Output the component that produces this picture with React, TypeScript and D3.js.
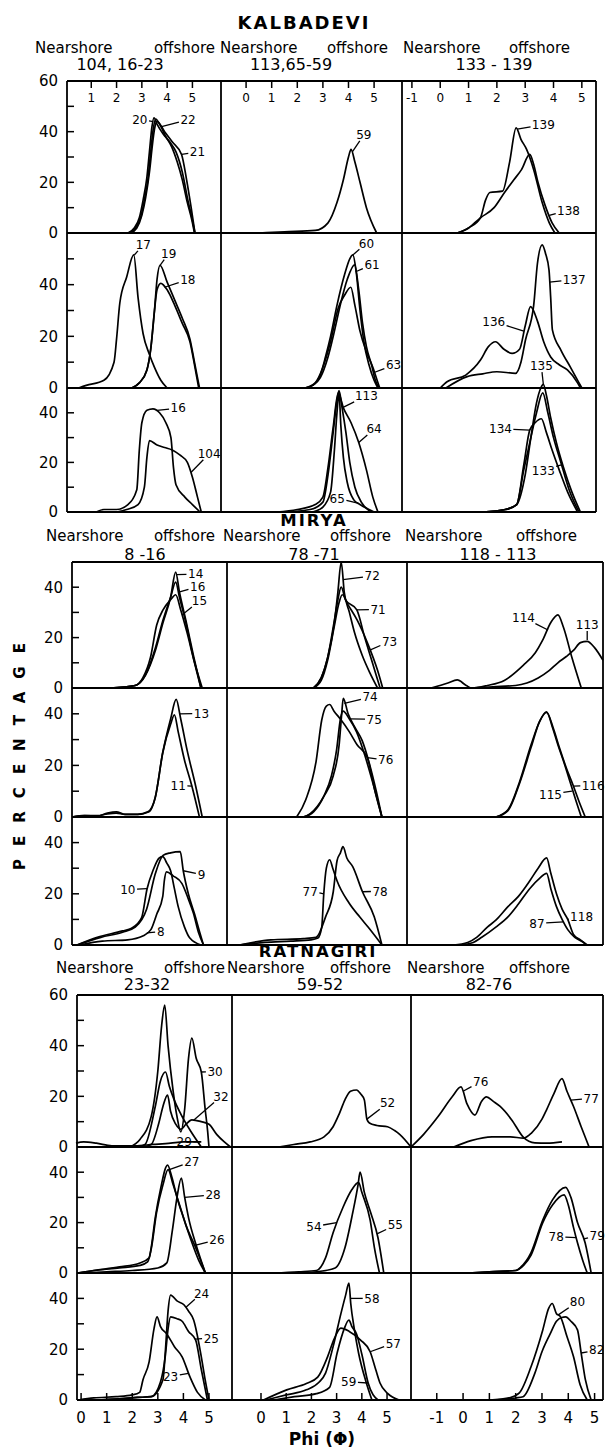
import React from "react";
import * as d3 from "d3";

type Pt = [number, number];
type Note = { t: string; at: Pt; to: Pt };

// ---------------- KALBADEVI ----------------
const kalTitle = "KALBADEVI";
const kalStations = ["104, 16-23", "113,65-59", "133 - 139"];
const kalPhi: Pt[] = [[0.04, 6.13], [-0.98, 6.09], [-1.35, 5.5]];
const kalPctMax = [60, 60, 50];
const kalTopTicks = [[1, 2, 3, 4, 5], [0, 1, 2, 3, 4, 5], [-1, 0, 1, 2, 3, 4, 5]];

const k20: Pt[] = [[2.45,0],[2.7,2],[2.9,6],[3.05,13],[3.2,22],[3.3,32],[3.4,42],[3.48,45.5],[3.6,43],[3.85,39],[4.1,36],[4.35,32],[4.6,24],[4.82,13],[5.0,5],[5.1,0]];
const k22: Pt[] = [[2.5,0],[2.75,2],[2.95,6],[3.1,13],[3.25,22],[3.35,32],[3.45,41],[3.55,45],[3.7,43],[3.95,38],[4.18,34],[4.4,28],[4.6,21],[4.8,12],[4.98,5],[5.08,0]];
const k21: Pt[] = [[2.55,0],[2.8,2],[3.0,7],[3.15,14],[3.3,24],[3.42,35],[3.5,41],[3.6,44],[3.9,40],[4.2,36],[4.57,31],[4.77,21],[4.95,10],[5.1,0]];
const k59: Pt[] = [[0.5,0],[1.5,0.5],[2.7,1],[3.2,4],[3.55,12],[3.8,21],[4.0,30],[4.1,33],[4.25,28],[4.45,20],[4.7,10],[5.1,0]];
const k139: Pt[] = [[0.6,0],[1.0,2],[1.42,6],[1.6,13],[1.75,16],[2.2,16.5],[2.45,28],[2.68,41.5],[2.85,37],[3.05,33],[3.3,25],[3.6,12],[3.85,4],[4.05,0]];
const k138: Pt[] = [[0.6,0],[1.0,2],[1.42,6],[1.9,10],[2.27,16],[2.6,21],[2.87,25],[3.16,31],[3.3,27],[3.45,20],[3.7,11],[3.95,4],[4.2,0]];
const k17: Pt[] = [[0.5,0],[0.8,1],[1.5,3],[1.9,10],[2.0,19],[2.13,33],[2.4,43],[2.68,51.5],[2.85,35],[3.05,21],[3.3,13],[3.5,8],[3.75,3],[4.0,0]];
const k19: Pt[] = [[2.6,0],[2.9,2],[3.2,7],[3.35,15],[3.5,30],[3.6,42],[3.72,47.5],[4.0,41],[4.3,34],[4.6,27],[4.9,19],[5.1,9],[5.28,0]];
const k18: Pt[] = [[2.6,0],[2.9,2],[3.2,7],[3.35,15],[3.5,30],[3.6,38],[3.75,40.5],[4.0,38],[4.3,32],[4.6,25],[4.9,18],[5.1,8],[5.25,0]];
const k60: Pt[] = [[2.3,0],[2.6,1],[2.9,5],[3.1,12],[3.3,20],[3.55,32],[3.85,44],[4.05,50],[4.17,51.5],[4.3,45],[4.45,30],[4.6,18],[4.8,9],[5.0,3],[5.15,0]];
const k61: Pt[] = [[2.3,0],[2.6,1],[2.9,4],[3.2,12],[3.45,22],[3.7,33],[3.95,42],[4.24,47.7],[4.4,38],[4.55,25],[4.7,16],[4.9,9],[5.05,3],[5.2,0]];
const k63: Pt[] = [[2.3,0],[2.7,2],[3.0,8],[3.3,18],[3.6,31],[3.85,36],[4.09,39],[4.25,32],[4.45,22],[4.7,14],[4.95,8],[5.15,2],[5.22,0]];
const k137: Pt[] = [[0.2,0],[0.95,4.4],[1.5,5.5],[2.0,6.3],[2.66,5.7],[2.85,10],[3.01,18.6],[3.3,32],[3.43,48],[3.6,55.4],[3.72,52],[3.84,45.7],[3.9,35],[3.96,22.5],[4.26,14.7],[4.6,8],[4.9,2],[5.0,0]];
const k136: Pt[] = [[0.0,0],[0.24,2.4],[0.9,5],[1.42,10.8],[1.7,16],[1.95,17.9],[2.25,15],[2.54,13.4],[2.8,15],[3.0,24],[3.19,31.5],[3.43,26],[3.65,18],[3.9,12],[4.2,9],[4.49,7],[4.85,2],[4.95,0]];
const k16: Pt[] = [[1.2,0],[1.5,1],[2.0,1],[2.45,3],[2.8,9],[2.9,25],[3.0,36],[3.2,41],[3.44,41.6],[3.7,40],[3.95,36],[4.15,30],[4.25,18],[4.35,11],[4.7,6],[5.0,3],[5.3,0]];
const k104: Pt[] = [[2.0,0],[2.4,1],[2.85,3],[3.1,10],[3.2,22],[3.3,28.8],[3.6,27],[3.9,26],[4.2,25],[4.5,23],[4.8,20],[5.0,14],[5.2,6],[5.35,0]];
const k113: Pt[] = [[1.5,0],[2.5,1],[3.0,4],[3.2,15],[3.4,32],[3.55,45],[3.63,49],[3.75,42],[3.9,32],[4.05,20],[4.25,10],[4.5,4],[4.9,0]];
const k64: Pt[] = [[1.2,0],[2.0,1],[2.7,3],[3.0,6],[3.2,18],[3.4,34],[3.6,48],[3.8,42],[4.1,36],[4.4,28],[4.7,17],[4.95,6],[5.15,0]];
const k65: Pt[] = [[2.6,0],[3.0,2],[3.3,8],[3.45,25],[3.55,40],[3.63,48],[3.7,35],[3.8,22],[3.95,12],[4.2,5],[4.45,3],[4.8,1],[5.0,0]];
const k135: Pt[] = [[1.5,0],[2.3,1],[2.7,3],[3.0,15],[3.2,30],[3.4,44],[3.55,50],[3.64,51.5],[3.75,47],[3.9,38],[4.1,28],[4.35,18],[4.65,8],[4.95,0]];
const k134: Pt[] = [[1.5,0],[2.3,1],[2.7,3],[2.95,19],[3.16,33],[3.35,36],[3.57,37.6],[3.75,32],[3.95,25],[4.2,17],[4.5,8],[4.85,0]];
const k133: Pt[] = [[1.5,0],[2.3,1],[2.7,3],[2.95,17],[3.2,30],[3.4,40],[3.62,48],[3.8,40],[4.0,30],[4.26,20],[4.55,9],[4.9,0]];

const kalCurves: Pt[][][][] = [
  [[k20, k22, k21], [k59], [k139, k138]],
  [[k17, k19, k18], [k60, k61, k63], [k137, k136]],
  [[k16, k104], [k113, k64, k65], [k135, k134, k133]],
];
const kalNotes: Note[][][] = [
  [
    [{ t: "20", at: [2.92, 44.7], to: [3.45, 44] }, { t: "22", at: [4.83, 44.7], to: [3.78, 42] }, { t: "21", at: [5.2, 32], to: [4.57, 31] }],
    [{ t: "59", at: [4.6, 38.7], to: [4.15, 32] }],
    [{ t: "139", at: [3.64, 42.7], to: [2.72, 41] }, { t: "138", at: [4.53, 9], to: [3.85, 7] }],
  ],
  [
    [{ t: "17", at: [3.06, 55.4], to: [2.7, 51.5] }, { t: "19", at: [4.06, 52], to: [3.72, 47.5] }, { t: "18", at: [4.82, 41.9], to: [3.9, 39] }],
    [{ t: "60", at: [4.7, 56], to: [4.17, 51.5] }, { t: "61", at: [4.92, 47.7], to: [4.28, 45] }, { t: "63", at: [5.76, 8.9], to: [5.0, 6] }],
    [{ t: "137", at: [4.73, 41.9], to: [3.86, 41] }, { t: "136", at: [1.89, 25.7], to: [2.95, 22] }],
  ],
  [
    [{ t: "16", at: [4.44, 41.9], to: [3.6, 41] }, { t: "104", at: [5.66, 23.5], to: [4.95, 16] }],
    [{ t: "113", at: [4.7, 46.8], to: [3.75, 42] }, { t: "64", at: [5.0, 33.5], to: [4.4, 28] }, { t: "65", at: [3.56, 5.5], to: [4.4, 3.5] }],
    [{ t: "135", at: [3.57, 58.8], to: [3.64, 51.5] }, { t: "134", at: [2.13, 33.5], to: [3.16, 33] }, { t: "133", at: [3.64, 16.8], to: [4.28, 19] }],
  ],
];

// ---------------- MIRYA ----------------
const mirTitle = "MIRYA";
const mirStations = ["8 -16", "78 -71", "118 - 113"];
const mirPhi: Pt[] = [[0, 6.13], [-0.98, 6.05], [-1.35, 5.6]];
const mirPctMax = [50, 50, 50];

const m14: Pt[] = [[1.5,0],[2.5,1],[2.9,5],[3.3,15],[3.6,26],[3.9,36],[4.1,46],[4.25,38],[4.5,27],[4.8,13],[5.1,0]];
const m16: Pt[] = [[1.5,0],[2.5,1],[2.9,5],[3.3,16],[3.6,27],[3.9,36],[4.1,42],[4.25,36],[4.5,26],[4.8,12],[5.1,0]];
const m15: Pt[] = [[1.5,0],[2.5,1],[2.8,4],[3.1,12],[3.35,25],[3.6,31],[3.9,35],[4.1,37],[4.3,31],[4.55,22],[4.85,10],[5.15,0]];
const m72: Pt[] = [[2.4,0],[2.7,4],[2.95,12],[3.2,25],[3.35,38],[3.48,50],[3.6,38],[3.8,30],[4.0,22],[4.3,13],[4.6,6],[4.9,0]];
const m71: Pt[] = [[2.4,0],[2.7,4],[2.95,12],[3.2,26],[3.35,35],[3.48,40],[3.65,35],[4.09,31],[4.4,20],[4.7,10],[5.0,0]];
const m73: Pt[] = [[2.4,0],[2.7,3],[2.95,11],[3.2,24],[3.4,34],[3.52,37],[3.75,33],[4.1,27],[4.5,18],[4.9,7],[5.1,0]];
const m114: Pt[] = [[-0.5,0],[0.1,2],[0.43,3.2],[0.75,1],[0.95,0],[1.5,1],[2.1,3],[2.77,9],[3.2,14],[3.46,19],[3.75,26],[4.0,29],[4.2,24],[4.5,12],[4.83,0]];
const m113: Pt[] = [[0.95,0],[1.7,0.5],[2.5,1],[2.9,2],[3.3,4],[3.7,7],[4.0,10],[4.3,12.5],[4.56,15],[4.8,18],[5.04,18.5],[5.3,16],[5.6,11]];
const m13: Pt[] = [[0.0,0],[0.5,0.5],[1.0,0.3],[1.4,1.5],[1.75,2],[2.1,1],[2.6,1],[3.0,2],[3.28,7],[3.59,25],[3.9,38],[4.12,45.6],[4.3,38],[4.55,26],[4.89,12],[5.15,0]];
const m11: Pt[] = [[0.0,0],[0.5,0.5],[1.0,0.5],[1.4,1.2],[1.75,1.5],[2.1,1],[2.6,1],[3.05,2],[3.3,8],[3.59,25],[3.9,36],[4.05,39.6],[4.2,33],[4.45,22],[4.74,12],[5.04,0]];
const m74: Pt[] = [[2.0,0],[2.27,1.3],[2.8,8],[3.17,16],[3.4,28],[3.5,40],[3.56,46],[3.75,40],[4.0,35],[4.3,29.6],[4.6,20],[4.85,10],[5.07,0]];
const m75: Pt[] = [[2.0,0],[2.4,2],[2.8,8],[3.1,16],[3.3,26],[3.45,38],[3.55,41],[3.8,38],[4.08,33],[4.4,24],[4.75,12],[5.07,0]];
const m76: Pt[] = [[1.74,0],[2.1,6.8],[2.5,21.6],[2.72,37.6],[2.9,43],[3.03,43.6],[3.2,41],[3.45,38],[3.8,33],[4.1,28],[4.5,23],[4.8,10],[5.07,0]];
const m115: Pt[] = [[1.8,0],[2.23,2.8],[2.64,13.6],[3.05,28],[3.35,37],[3.6,40.8],[3.8,35],[4.0,28],[4.25,20],[4.45,13],[4.65,6],[4.83,0]];
const m116: Pt[] = [[1.8,0],[2.23,2.5],[2.64,13],[3.05,27],[3.35,37],[3.6,40.5],[3.85,34],[4.05,27],[4.3,19],[4.55,12],[4.75,6],[4.97,0]];
const m9: Pt[] = [[0.2,0],[1.14,3],[2.0,5],[2.5,7],[2.95,14],[3.3,28],[3.6,35],[3.9,36],[4.28,36.5],[4.4,29],[4.6,20],[4.85,12],[5.05,5],[5.2,0]];
const m10: Pt[] = [[0.2,0],[1.0,3],[2.0,5.5],[2.36,6.6],[2.75,10.6],[2.97,22],[3.2,29],[3.45,34],[3.59,34.5],[3.75,32],[3.9,29],[4.05,22],[4.2,15],[4.45,7],[4.66,2.7],[5.1,0]];
const m8: Pt[] = [[0.3,0],[1.2,1.5],[2.2,2],[2.8,3.5],[3.12,6],[3.35,12],[3.59,19],[3.65,25],[3.74,28.6],[4.0,27],[4.35,24],[4.6,18],[4.8,12.5],[5.0,5],[5.2,0]];
const m77: Pt[] = [[-0.5,0],[0.5,1],[1.5,1.5],[2.3,2],[2.57,2.7],[2.72,7],[2.8,20],[2.9,30],[3.03,33.3],[3.15,30],[3.32,25],[3.78,16.5],[4.2,11],[4.53,7],[5.07,0]];
const m78: Pt[] = [[-0.5,0],[0.74,2],[2.0,2.5],[2.5,3],[2.87,11],[3.17,20.8],[3.32,33],[3.45,36],[3.55,38.4],[3.7,34],[3.93,30.6],[4.31,20.8],[4.77,11],[5.07,0]];
const m118: Pt[] = [[0.3,0],[0.8,1],[1.12,3],[1.5,7],[1.81,9.8],[2.23,15],[2.6,19],[3.0,25],[3.3,30],[3.6,34],[3.75,28],[3.95,20],[4.15,14],[4.35,10],[4.56,4],[4.8,2],[5.04,0]];
const m87: Pt[] = [[0.5,0],[1.0,1],[1.3,3],[1.8,7],[2.23,11],[2.6,16],[3.0,22],[3.35,26],[3.6,28],[3.75,22],[3.95,15],[4.15,10],[4.35,6],[4.6,3],[4.9,1],[5.0,0]];

const mirCurves: Pt[][][][] = [
  [[m14, m16, m15], [m72, m71, m73], [m114, m113]],
  [[m13, m11], [m74, m75, m76], [m115, m116]],
  [[m9, m10, m8], [m77, m78], [m118, m87]],
];
const mirNotes: Note[][][] = [
  [
    [{ t: "14", at: [4.89, 45.2], to: [4.12, 45] }, { t: "16", at: [4.97, 40.3], to: [4.22, 38] }, { t: "15", at: [5.04, 34.5], to: [4.35, 29] }],
    [{ t: "72", at: [4.69, 44.5], to: [3.55, 43] }, { t: "71", at: [4.92, 31.2], to: [4.09, 31] }, { t: "73", at: [5.37, 18.5], to: [4.6, 15] }],
    [{ t: "114", at: [2.78, 27.9], to: [3.65, 23] }, { t: "113", at: [5.04, 25], to: [5.04, 19] }],
  ],
  [
    [{ t: "13", at: [5.12, 40.1], to: [4.25, 40] }, { t: "11", at: [4.2, 12.1], to: [4.72, 12] }],
    [{ t: "74", at: [4.61, 46.5], to: [3.6, 44] }, { t: "75", at: [4.77, 37.9], to: [3.8, 38] }, { t: "76", at: [5.22, 22.1], to: [4.5, 23] }],
    [{ t: "116", at: [5.25, 12.1], to: [4.55, 12] }, { t: "115", at: [3.74, 8.8], to: [4.5, 10] }],
  ],
  [
    [{ t: "9", at: [5.12, 27.5], to: [4.4, 29] }, { t: "10", at: [2.21, 21.6], to: [2.97, 22] }, { t: "8", at: [3.51, 5.2], to: [2.96, 4.7] }],
    [{ t: "77", at: [2.27, 21], to: [2.8, 20] }, { t: "78", at: [5.0, 21], to: [4.31, 20.8] }],
    [{ t: "118", at: [4.84, 11.1], to: [4.35, 10] }, { t: "87", at: [3.26, 8.5], to: [4.2, 9] }],
  ],
];

// ---------------- RATNAGIRI ----------------
const ratTitle = "RATNAGIRI";
const ratStations = ["23-32", "59-52", "82-76"];
const ratPhi: Pt[] = [[-0.16, 5.9], [-1.15, 5.95], [-1.98, 5.32]];
const ratPctMax = [60, 50, 50];
const ratBottomTicks = [[0, 1, 2, 3, 4, 5], [0, 1, 2, 3, 4, 5], [-1, 0, 1, 2, 3, 4, 5]];

const r30: Pt[] = [[1.9,0],[2.3,3],[2.74,12],[3.0,30],[3.15,48],[3.27,56],[3.4,40],[3.6,22],[3.75,12],[3.9,6],[4.05,15],[4.2,35],[4.33,43],[4.5,35],[4.7,29.6],[4.85,15],[4.95,6],[5.0,0]];
const r31: Pt[] = [[2.2,0],[2.5,1],[2.9,16],[3.1,26],[3.3,29.6],[3.45,24],[3.64,18.6],[3.9,13],[4.3,6],[4.7,0]];
const r32: Pt[] = [[2.4,0],[2.74,1],[3.04,9.5],[3.2,16],[3.38,20.5],[3.5,14],[3.7,9],[3.9,7],[4.1,9],[4.33,10.7],[4.7,10],[5.0,9],[5.3,5],[5.6,2],[5.84,0]];
const r29: Pt[] = [[-0.2,1.5],[0.1,2],[0.6,1.5],[1.2,0.5],[2.1,0.5],[2.8,1],[3.5,1.5],[4.0,2],[4.7,2]];
const r52: Pt[] = [[0.7,0],[1.3,1],[1.95,2],[2.5,4],[2.86,8],[3.1,13],[3.33,18.6],[3.55,22],[3.79,22.5],[3.95,21],[4.1,18.6],[4.2,11],[4.3,9.5],[4.6,8.5],[5.02,8],[5.3,6.5],[5.5,5],[5.95,0]];
const r76: Pt[] = [[-1.98,0],[-1.5,5],[-0.95,12],[-0.4,20],[-0.08,23.7],[0.15,17],[0.45,12.6],[0.7,18],[0.89,19.8],[1.15,18],[1.41,16],[1.85,10.7],[2.28,4],[2.73,1.6],[3.2,1.5],[3.76,2]];
const r77: Pt[] = [[-0.36,0],[0.3,2.5],[1.1,4],[1.8,4],[2.3,3.5],[2.6,5.5],[3.0,11],[3.17,14.6],[3.45,21],[3.76,27],[3.95,22],[4.2,16],[4.49,8],[4.79,0]];
const r27: Pt[] = [[-0.14,0],[0.5,1],[1.5,2.4],[2.3,4],[2.66,6],[2.74,10],[2.9,22],[3.1,33],[3.38,42.8],[3.55,38],[3.75,30],[4.0,22],[4.3,13],[4.6,5],[4.86,0]];
const r26: Pt[] = [[-0.14,0],[0.5,1],[1.5,2],[2.3,3],[2.6,4.4],[2.75,10],[2.95,24],[3.2,35],[3.4,41],[3.6,35],[3.85,27],[4.1,19],[4.48,10],[4.86,0]];
const r28: Pt[] = [[0.0,0],[1.0,0.5],[2.0,1],[3.0,2],[3.35,4],[3.57,17],[3.75,30],[3.92,37.7],[4.05,30],[4.2,22],[4.5,11],[4.86,0]];
const r54: Pt[] = [[0.5,0],[1.5,0.5],[2.2,1],[2.56,6],[2.86,16],[3.25,26],[3.6,33],[3.87,36],[4.0,32],[4.33,21],[4.5,10],[4.7,0]];
const r55: Pt[] = [[1.2,0],[2.2,0.5],[2.94,2],[3.33,10],[3.64,24],[3.85,35],[3.93,40],[4.1,32],[4.35,24],[4.64,14],[4.87,0]];
const r78: Pt[] = [[0.2,0],[1.0,0.5],[2.0,1],[2.3,3],[2.58,7],[3.03,20],[3.4,27],[3.84,31],[4.0,27],[4.2,18],[4.35,12],[4.55,5],[4.72,0]];
const r79: Pt[] = [[0.2,0],[1.0,0.5],[2.0,1],[2.2,2.4],[2.58,8],[3.03,21],[3.4,29],[3.9,34],[4.1,30],[4.35,20],[4.64,12],[4.87,0]];
const r23: Pt[] = [[-0.1,0],[0.5,0.8],[1.37,1.3],[2.0,2],[2.29,3],[2.42,8],[2.66,15],[2.85,28],[2.97,32.7],[3.1,29],[3.35,26],[3.65,21],[3.95,17],[4.26,9],[4.55,3],[4.86,0]];
const r24: Pt[] = [[0.5,0],[1.5,0.5],[2.2,1],[2.74,1.3],[3.2,8],[3.3,20],[3.4,35],[3.5,41.3],[3.75,39],[4.03,37.4],[4.2,35],[4.4,31.5],[4.7,17],[4.85,8],[5.0,0]];
const r25: Pt[] = [[0.5,0],[1.5,0.5],[2.2,1],[2.74,1.3],[3.1,7],[3.3,18],[3.4,28],[3.5,32.7],[3.75,32],[3.95,31],[4.2,27],[4.48,23.6],[4.7,12],[4.94,0]];
const r57: Pt[] = [[0.1,0],[1.02,4],[1.8,6.5],[2.25,9],[2.64,17],[2.9,24],[3.17,28.3],[3.5,27],[3.95,23.6],[4.33,19],[4.55,12],[4.72,6.7],[5.02,2.6],[5.48,0]];
const r58: Pt[] = [[0.2,0],[1.0,2],[1.8,4],[2.3,7],[2.56,10.6],[2.86,21],[3.17,34],[3.35,41],[3.49,46],[3.56,38],[3.7,28],[3.87,18.5],[4.18,6.7],[4.4,0]];
const r59: Pt[] = [[0.5,0],[1.33,1.3],[2.2,2.5],[2.72,5],[3.02,18.5],[3.3,28],[3.49,31.5],[3.6,29],[3.79,26],[4.0,18],[4.25,6.7],[4.64,0]];
const r80: Pt[] = [[1.0,0],[1.8,1],[2.14,2.8],[2.58,13],[3.03,27.6],[3.25,36],[3.39,38],[3.55,34],[3.69,33],[3.95,25],[4.2,17],[4.45,6],[4.72,0]];
const r82: Pt[] = [[1.2,0],[2.0,0.8],[2.28,1.3],[2.73,10.6],[3.0,19],[3.31,26],[3.55,31],[3.75,32.5],[3.9,32.7],[4.1,31],[4.35,27.6],[4.49,18.5],[4.65,8],[4.87,0]];

const ratCurves: Pt[][][][] = [
  [[r30, r31, r32, r29], [r52], [r76, r77]],
  [[r27, r26, r28], [r54, r55], [r78, r79]],
  [[r23, r24, r25], [r57, r58, r59], [r80, r82]],
];
const ratNotes: Note[][][] = [
  [
    [{ t: "30", at: [5.24, 29.8], to: [4.7, 29.6] }, { t: "32", at: [5.47, 19.9], to: [4.4, 10.6] }, { t: "29", at: [4.03, 2.1], to: [4.65, 2] }],
    [{ t: "52", at: [5.02, 17.3], to: [4.2, 11] }],
    [{ t: "76", at: [0.67, 25.8], to: [0.0, 22] }, { t: "77", at: [4.87, 19.2], to: [4.1, 18.5] }],
  ],
  [
    [{ t: "27", at: [4.33, 44.2], to: [3.45, 41] }, { t: "28", at: [5.16, 31], to: [4.05, 30] }, { t: "26", at: [5.31, 13.1], to: [4.45, 11] }],
    [{ t: "54", at: [2.1, 18.4], to: [3.0, 20] }, { t: "55", at: [5.33, 19], to: [4.6, 15.5] }],
    [{ t: "78", at: [3.54, 14.4], to: [4.3, 14] }, { t: "79", at: [5.1, 15], to: [4.6, 13.5] }],
  ],
  [
    [{ t: "24", at: [4.71, 42], to: [4.1, 36.5] }, { t: "25", at: [5.09, 24.3], to: [4.45, 24] }, { t: "23", at: [3.5, 9.2], to: [4.2, 10.5] }],
    [{ t: "58", at: [4.4, 40], to: [3.55, 40] }, { t: "57", at: [5.25, 22.3], to: [4.33, 19] }, { t: "59", at: [3.48, 7.2], to: [4.25, 6.7] }],
    [{ t: "80", at: [4.35, 38.7], to: [3.62, 33.5] }, { t: "82", at: [5.08, 19.7], to: [4.49, 18.5] }],
  ],
];

const yLabelValues = [0, 20, 40, 60];
const headWords = ["Nearshore", "offshore"];
const yTitle = "PERCENTAGE";
const xTitle = "Phi (\u03A6)";

// ---------------- layout ----------------
const FONT = "'DejaVu Sans', sans-serif";

type Block = {
  title: string; stations: string[]; phi: Pt[]; pctMax: number[];
  curves: Pt[][][][]; notes: Note[][][]; ticks: number[][] | null; tickSide: "top" | "bottom";
  xs: number[]; ys: number[]; titleX: number; titleY: number; titleSize: number; headY: number; idY: number;
  idX: number[]; head: number[][];
};

const blocks: Block[] = [
  {
    title: kalTitle, stations: kalStations, phi: kalPhi, pctMax: kalPctMax, curves: kalCurves, notes: kalNotes,
    ticks: kalTopTicks, tickSide: "top",
    xs: [67, 221, 402, 596], ys: [81, 233, 388, 512],
    titleX: 304, titleY: 29, titleSize: 18, headY: 53, idY: 70, idX: [120, 291, 494],
    head: [[35, 215], [220, 388], [403, 570]],
  },
  {
    title: mirTitle, stations: mirStations, phi: mirPhi, pctMax: mirPctMax, curves: mirCurves, notes: mirNotes,
    ticks: null, tickSide: "top",
    xs: [72, 227, 407, 603], ys: [562, 688, 817, 945],
    titleX: 314, titleY: 526, titleSize: 16.5, headY: 541, idY: 560, idX: [145, 314, 498],
    head: [[46, 215], [223, 391], [405, 577]],
  },
  {
    title: ratTitle, stations: ratStations, phi: ratPhi, pctMax: ratPctMax, curves: ratCurves, notes: ratNotes,
    ticks: ratBottomTicks, tickSide: "bottom",
    xs: [77, 232, 411, 603], ys: [995, 1147, 1273, 1400],
    titleX: 318, titleY: 957, titleSize: 16.5, headY: 973, idY: 990, idX: [147, 320, 489],
    head: [[56, 225], [227, 391], [407, 570]],
  },
];

function noteLine(n: Note, x: d3.ScaleLinear<number, number>, y: d3.ScaleLinear<number, number>) {
  const tx = x(n.at[0]), ty = y(n.at[1]);
  const px = x(n.to[0]), py = y(n.to[1]);
  const dx = px - tx, dy = py - ty;
  const hw = n.t.length * 3.6 + 2, hh = 6;
  const s = Math.min(Math.abs(dx) > 0 ? hw / Math.abs(dx) : 1e9, Math.abs(dy) > 0 ? hh / Math.abs(dy) : 1e9);
  return { tx, ty, x1: tx + dx * Math.min(s, 1), y1: ty + dy * Math.min(s, 1), x2: px, y2: py };
}

function BlockView({ b }: { b: Block }) {
  const els: React.ReactNode[] = [];
  const { xs, ys } = b;
  const sw = 1.8;

  // frame
  els.push(<line key="top" x1={xs[0]} x2={xs[3]} y1={ys[0]} y2={ys[0]} stroke="#000" strokeWidth={sw} />);
  for (let i = 1; i < 4; i++)
    els.push(<line key={"h" + i} x1={xs[0]} x2={xs[3]} y1={ys[i]} y2={ys[i]} stroke="#000" strokeWidth={sw} />);
  for (let i = 0; i < 4; i++)
    els.push(<line key={"v" + i} x1={xs[i]} x2={xs[i]} y1={ys[0]} y2={ys[3]} stroke="#000" strokeWidth={sw} />);

  for (let r = 0; r < 3; r++) {
    const yS = d3.scaleLinear().domain([0, b.pctMax[r]]).range([ys[r + 1], ys[r]]);
    // left axis ticks + labels
    d3.range(10, b.pctMax[r], 10).forEach((v) =>
      els.push(<line key={`yt${r}-${v}`} x1={xs[0]} x2={xs[0] + 7} y1={yS(v)} y2={yS(v)} stroke="#000" strokeWidth={1.5} />)
    );
    yLabelValues
      .filter((v) => v < b.pctMax[r] || (r === 0 && v === b.pctMax[r]))
      .forEach((v) =>
        els.push(
          <text key={`yl${r}-${v}`} x={xs[0] - 9} y={yS(v)} dy="0.36em" textAnchor="end" fontSize={15} fontFamily={FONT}>
            {v}
          </text>
        )
      );

    for (let c = 0; c < 3; c++) {
      const xS = d3.scaleLinear().domain(b.phi[c]).range([xs[c], xs[c + 1]]);
      const lineGen = d3
        .line<Pt>()
        .x((d) => xS(d[0]))
        .y((d) => yS(d[1]))
        .curve(d3.curveMonotoneX);
      b.curves[r][c].forEach((pts, i) =>
        els.push(<path key={`c${r}${c}-${i}`} d={lineGen(pts) || ""} fill="none" stroke="#000" strokeWidth={1.7} strokeLinejoin="round" />)
      );
      b.notes[r][c].forEach((n, i) => {
        const g = noteLine(n, xS, yS);
        els.push(<line key={`nl${r}${c}-${i}`} x1={g.x1} y1={g.y1} x2={g.x2} y2={g.y2} stroke="#000" strokeWidth={1.3} />);
        els.push(
          <text key={`nt${r}${c}-${i}`} x={g.tx} y={g.ty} dy="0.36em" textAnchor="middle" fontSize={12} fontFamily={FONT}>
            {n.t}
          </text>
        );
      });
    }
  }

  // x ticks
  if (b.ticks) {
    for (let c = 0; c < 3; c++) {
      const xS = d3.scaleLinear().domain(b.phi[c]).range([xs[c], xs[c + 1]]);
      b.ticks[c].forEach((v) => {
        const x = xS(v);
        const lbl = v < 0 ? "-" + Math.abs(v) : String(v);
        if (b.tickSide === "top") {
          els.push(<line key={`xt${c}-${v}`} x1={x} x2={x} y1={ys[0]} y2={ys[0] + 7} stroke="#000" strokeWidth={1.5} />);
          els.push(
            <text key={`xl${c}-${v}`} x={x} y={ys[0] + 21} textAnchor="middle" fontSize={12} fontFamily={FONT}>
              {lbl}
            </text>
          );
        } else {
          els.push(<line key={`xt${c}-${v}`} x1={x} x2={x} y1={ys[3]} y2={ys[3] - 7} stroke="#000" strokeWidth={1.5} />);
          els.push(
            <text key={`xl${c}-${v}`} x={x} y={ys[3] + 23} textAnchor="middle" fontSize={15} fontFamily={FONT}>
              {lbl}
            </text>
          );
        }
      });
    }
  }

  return (
    <g>
      <text x={b.titleX} y={b.titleY} textAnchor="middle" fontSize={b.titleSize} fontWeight="bold" letterSpacing={2} fontFamily={FONT}>
        {b.title}
      </text>
      {b.head.map((h, i) => (
        <g key={"hd" + i} fontSize={15} fontFamily={FONT}>
          <text x={h[0]} y={b.headY} textAnchor="start">{headWords[0]}</text>
          <text x={h[1]} y={b.headY} textAnchor="end">{headWords[1]}</text>
        </g>
      ))}
      {b.stations.map((s, i) => (
        <text key={"st" + i} x={b.idX[i]} y={b.idY} textAnchor="middle" fontSize={16} fontFamily={FONT}>
          {s}
        </text>
      ))}
      {els}
    </g>
  );
}

export default function App() {
  return (
    <div style={{ position: "absolute", left: 0, top: 0 }}>
      <svg width={606} height={1452} style={{ display: "block", background: "#fff" }}>
        <rect width={606} height={1452} fill="#fff" />
        {blocks.map((b, i) => (
          <BlockView key={i} b={b} />
        ))}
        <text
          transform="translate(25,750) rotate(-90)"
          textAnchor="middle"
          fontSize={15}
          fontWeight="bold"
          letterSpacing={13}
          fontFamily={FONT}
        >
          {yTitle}
        </text>
        <text x={322} y={1445} textAnchor="middle" fontSize={17} fontWeight="bold" fontFamily={FONT}>
          {xTitle}
        </text>
      </svg>
    </div>
  );
}
